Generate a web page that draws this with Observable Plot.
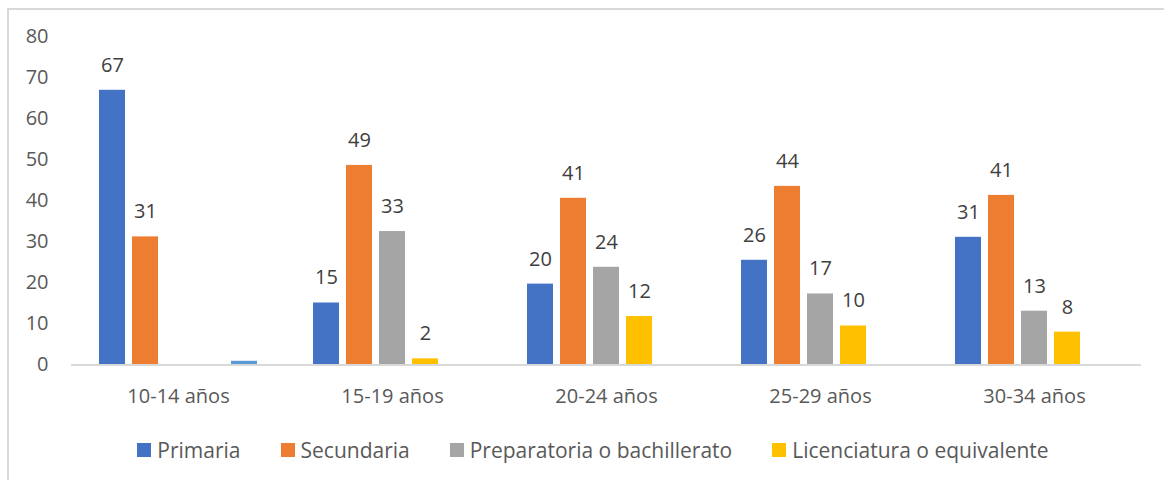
<!DOCTYPE html>
<html>
<head>
<meta charset="utf-8">
<script src="https://cdn.jsdelivr.net/npm/d3@7"></script>
<script src="https://cdn.jsdelivr.net/npm/@observablehq/plot@0.6"></script>
<style>
  html, body { margin: 0; padding: 0; background: #ffffff; }
  body { width: 1164px; height: 480px; position: relative; overflow: hidden; font-family: "Open Sans", sans-serif; }
  #frame { position: absolute; left: 7px; top: 8px; right: -10px; bottom: -10px; border-left: 2px solid #d9d9d9; border-top: 2px solid #d9d9d9; }
  #chart { position: absolute; left: 0; top: 0; }
  #legend { position: absolute; left: 0; top: 436px; width: 1186px; display: flex; justify-content: center; align-items: center; font-size: 21px; color: #595959; white-space: nowrap; }
  .item { display: flex; align-items: center; margin: 0 20px; }
  .sw { width: 14px; height: 14px; margin-right: 6px; }
</style>
</head>
<body>
<div id="frame"></div>
<div id="chart"></div>
<div id="legend"></div>
<script>
const groups = ["10-14 años", "15-19 años", "20-24 años", "25-29 años", "30-34 años"];
const series = ["Primaria", "Secundaria", "Preparatoria o bachillerato", "Licenciatura o equivalente", "Otro"];
const legendSeries = ["Primaria", "Secundaria", "Preparatoria o bachillerato", "Licenciatura o equivalente"];
const primaria = [66.9, 15.1, 19.7, 25.5, 31.1];
const secundaria = [31.2, 48.6, 40.6, 43.5, 41.3];
const preparatoria = [null, 32.5, 23.8, 17.3, 13.1];
const licenciatura = [null, 1.5, 11.8, 9.5, 8.0];
const otro = [0.9, null, null, null, null];
const yTicks = [0, 10, 20, 30, 40, 50, 60, 70, 80];
const colors = ["#4472C4", "#ED7D31", "#A5A5A5", "#FFC000", "#5B9BD5"];

const valuesBySeries = [primaria, secundaria, preparatoria, licenciatura, otro];
const rows = [];
series.forEach((s, i) => {
  groups.forEach((g, j) => {
    const v = valuesBySeries[i][j];
    if (v != null) rows.push({group: g, series: s, value: v});
  });
});

const chart = Plot.plot({
  width: 1164,
  height: 420,
  marginLeft: 71,
  marginRight: 22.3,
  marginTop: 36,
  marginBottom: 55.5,
  style: {fontFamily: "Open Sans", fontSize: "20px", color: "#595959", background: "transparent", overflow: "visible"},
  facet: {data: rows, x: "group"},
  fx: {domain: groups, paddingInner: 56 / 214, paddingOuter: 28 / 214, axis: "bottom", tickSize: 0, tickPadding: 24, label: null},
  x: {domain: series, axis: null, paddingInner: 7 / 33, paddingOuter: 0},
  y: {domain: [0, 80], ticks: yTicks, tickSize: 0, tickPadding: 51, label: null},
  color: {domain: series, range: colors},
  marks: [
    Plot.barY(rows, {x: "series", y: "value", fill: "series"}),
    Plot.ruleY([0], {stroke: "#d9d9d9", strokeWidth: 2, insetLeft: -28, insetRight: -28}),
    Plot.text(rows, {
      filter: d => d.series !== "Otro",
      x: "series", y: "value",
      text: d => String(Math.round(d.value)),
      dy: -25, lineAnchor: "middle",
      fill: "#404040", fontSize: 20
    })
  ]
});
document.getElementById("chart").appendChild(chart);

const legend = document.getElementById("legend");
legendSeries.forEach(s => {
  const item = document.createElement("div");
  item.className = "item";
  const sw = document.createElement("div");
  sw.className = "sw";
  sw.style.background = colors[series.indexOf(s)];
  const label = document.createElement("span");
  label.textContent = s;
  item.appendChild(sw);
  item.appendChild(label);
  legend.appendChild(item);
});
</script>
</body>
</html>
